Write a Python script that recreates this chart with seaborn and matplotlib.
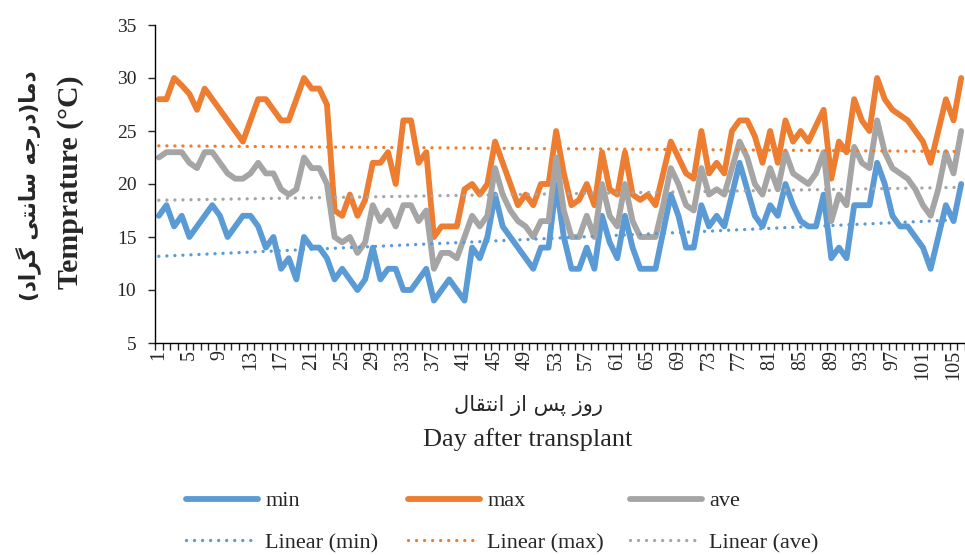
import numpy as np
import pandas as pd
import matplotlib
matplotlib.use("Agg")
import matplotlib.pyplot as plt
import seaborn as sns

# ---- data -------------------------------------------------------------
days = list(range(1, 107))

t_min = [17, 18, 16, 17, 15, 16, 17, 18, 17, 15,
         16, 17, 17, 16, 14, 15, 12, 13, 11, 15,
         14, 14, 13, 11, 12, 11, 10, 11, 14, 11,
         12, 12, 10, 10, 11, 12, 9, 10, 11, 10,
         9, 14, 13, 15, 19, 16, 15, 14, 13, 12,
         14, 14, 20, 15, 12, 12, 14, 12, 17, 14.5,
         13, 17, 14, 12, 12, 12, 15.5, 19, 17, 14,
         14, 18, 16, 17, 16, 19, 22, 19.5, 17, 16,
         18, 17, 20, 18, 16.5, 16, 16, 19, 13, 14,
         13, 18, 18, 18, 22, 20, 17, 16, 16, 15,
         14, 12, 15, 18, 16.5, 20]

t_max = [28, 28, 30, 29.3, 28.5, 27, 29, 28, 27, 26,
         25, 24, 26, 28, 28, 27, 26, 26, 28, 30,
         29, 29, 27.5, 17.5, 17, 19, 17, 18.5, 22, 22,
         23, 20, 26, 26, 22, 23, 15, 16, 16, 16,
         19.5, 20, 19, 20, 24, 22, 20, 18, 19, 18,
         20, 20, 25, 21, 18, 18.5, 20, 18, 23, 19.5,
         19, 23, 19, 18.5, 19, 18, 21, 24, 22.5, 21,
         20.5, 25, 21, 22, 21, 25, 26, 26, 24.5, 22,
         25, 22, 26, 24, 25, 24, 25.5, 27, 20.5, 24,
         23, 28, 26, 25, 30, 28, 27, 26.5, 26, 25,
         24, 22, 25, 28, 26, 30]

t_ave = [22.5, 23, 23, 23, 22, 21.5, 23, 23, 22, 21,
         20.5, 20.5, 21, 22, 21, 21, 19.5, 19, 19.5, 22.5,
         21.5, 21.5, 20, 15, 14.5, 15, 13.5, 14.5, 18, 16.5,
         17.5, 16, 18, 18, 16.5, 17.5, 12, 13.5, 13.5, 13,
         15, 17, 16, 17, 21.5, 19, 17.5, 16.5, 16, 15,
         16.5, 16.5, 22.5, 17.5, 15, 15, 17, 15, 20, 17,
         16, 20, 16.5, 15, 15, 15, 18, 21.5, 20, 18,
         17.5, 21.5, 19, 19.5, 19, 21.5, 24, 22.5, 20, 19,
         21.5, 19.5, 23, 21, 20.5, 20, 21, 23, 16.5, 19,
         18, 23.5, 22, 21.5, 26, 23, 21.5, 21, 20.5, 19.5,
         18, 17, 19.5, 23, 21, 25]

series_names = ["min", "max", "ave"]
series_colors = ["#5B9BD5", "#ED7D31", "#A5A5A5"]
tick_days = list(range(1, 107, 4))
y_ticks = [5, 10, 15, 20, 25, 30, 35]

ylabel_en = "Temprature (°C)"
ylabel_fa = "دما(درجه سانتی گراد)"
xlabel_fa = "روز پس از انتقال"
xlabel_en = "Day after transplant"


# ---- Persian text shaping (contextual forms + right-to-left order) ----
# letter: (isolated, final, initial, medial); letters without an initial
# form never connect to the following letter.
FORMS = {
    "ا": ("\uFE8D", "\uFE8E", None, None),
    "د": ("\uFEA9", "\uFEAA", None, None),
    "ر": ("\uFEAD", "\uFEAE", None, None),
    "ز": ("\uFEAF", "\uFEB0", None, None),
    "و": ("\uFEED", "\uFEEE", None, None),
    "م": ("\uFEE1", "\uFEE2", "\uFEE3", "\uFEE4"),
    "ج": ("\uFE9D", "\uFE9E", "\uFE9F", "\uFEA0"),
    "ه": ("\uFEE9", "\uFEEA", "\uFEEB", "\uFEEC"),
    "س": ("\uFEB1", "\uFEB2", "\uFEB3", "\uFEB4"),
    "ن": ("\uFEE5", "\uFEE6", "\uFEE7", "\uFEE8"),
    "ت": ("\uFE95", "\uFE96", "\uFE97", "\uFE98"),
    "ق": ("\uFED5", "\uFED6", "\uFED7", "\uFED8"),
    "ل": ("\uFEDD", "\uFEDE", "\uFEDF", "\uFEE0"),
    "ی": ("\uFBFC", "\uFBFD", "\uFBFE", "\uFBFF"),
    "گ": ("\uFB92", "\uFB93", "\uFB94", "\uFB95"),
    "پ": ("\uFB56", "\uFB57", "\uFB58", "\uFB59"),
}


def shape_rtl(text):
    out = []
    for i, ch in enumerate(text):
        if ch not in FORMS:
            out.append(ch)
            continue
        prev = text[i - 1] if i > 0 else ""
        nxt = text[i + 1] if i + 1 < len(text) else ""
        joins_prev = prev in FORMS and FORMS[prev][2] is not None
        joins_next = nxt in FORMS and FORMS[ch][2] is not None
        iso, fin, ini, med = FORMS[ch]
        if joins_prev and joins_next:
            out.append(med)
        elif joins_prev:
            out.append(fin)
        elif joins_next:
            out.append(ini)
        else:
            out.append(iso)
    mirror = {"(": ")", ")": "("}
    return "".join(mirror.get(c, c) for c in reversed(out))


# ---- figure -----------------------------------------------------------
sns.set_style("white")
plt.rcParams["font.family"] = ["Liberation Serif", "DejaVu Sans"]
plt.rcParams["axes.edgecolor"] = "black"

W, H = 965, 555
fig = plt.figure(figsize=(W / 100, H / 100), dpi=100)
ax = fig.add_axes([155 / W, 1 - 343 / H, (W - 155) / W, (343 - 25) / H])

df = pd.DataFrame({
    "day": days * 3,
    "temp": t_min + t_max + t_ave,
    "series": ["min"] * len(days) + ["max"] * len(days) + ["ave"] * len(days),
})

sns.lineplot(data=df, x="day", y="temp", hue="series",
             hue_order=series_names, palette=series_colors,
             linewidth=4.2, legend=False, ax=ax,
             solid_joinstyle="round", solid_capstyle="round")

# linear trend of each series
for vals, color in zip([t_min, t_max, t_ave], series_colors):
    coef = np.polyfit(days, vals, 1)
    trend = np.polyval(coef, days)
    sns.lineplot(x=days, y=trend, color=color, linewidth=2.4,
                 linestyle=(0, (0.01, 2.4)), dash_capstyle="round", ax=ax)

ax.set_xlim(0.5, 0.5 + (W - 155) / 7.69)
ax.set_ylim(5, 35)
ax.set_xlabel("")
ax.set_ylabel("")
for side in ["top", "right"]:
    ax.spines[side].set_visible(False)
for side in ["left", "bottom"]:
    ax.spines[side].set_linewidth(1.0)

ax.set_yticks(y_ticks)
ax.set_yticklabels([str(v) for v in y_ticks])
ax.tick_params(axis="y", direction="out", length=5, width=1.0, pad=8.5,
               labelsize=14, left=True)

ax.set_xticks(tick_days)
ax.set_xticklabels([str(d) for d in tick_days], rotation=90)
ax.set_xticks(np.arange(0.5, 107, 1), minor=True)
ax.tick_params(axis="x", which="major", length=0, pad=5, labelsize=14.5)
ax.tick_params(axis="x", which="minor", direction="out", length=5,
               width=1.0, bottom=True)

# axis titles
fig.text(70 / W, 1 - 182 / H, ylabel_en, rotation=90, ha="center",
         va="center", fontsize=21.5, fontweight="bold")
fig.text(28 / W, 1 - 186 / H, shape_rtl(ylabel_fa), rotation=90,
         ha="center", va="center", fontsize=15.5, fontweight="bold",
         family=["DejaVu Sans"])
fig.text(528 / W, 1 - 405 / H, shape_rtl(xlabel_fa), ha="center",
         va="center", fontsize=15, family=["DejaVu Sans"])
fig.text(528 / W, 1 - 440 / H, xlabel_en, ha="center", va="center",
         fontsize=19)

# legend: one column per series (line + its linear trend)
legend_x = [186, 408, 630]
for i, name in enumerate(series_names):
    fig.legend(handles=[ax.lines[i], ax.lines[3 + i]],
               labels=[name, f"Linear ({name})"],
               loc="center left", bbox_to_anchor=(legend_x[i] / W, 1 - 522 / H),
               frameon=False, fontsize=16, handlelength=3.25,
               handletextpad=0.32, labelspacing=0.95, borderpad=0,
               borderaxespad=0)

fig.savefig("out.png", dpi=100, facecolor="white")
